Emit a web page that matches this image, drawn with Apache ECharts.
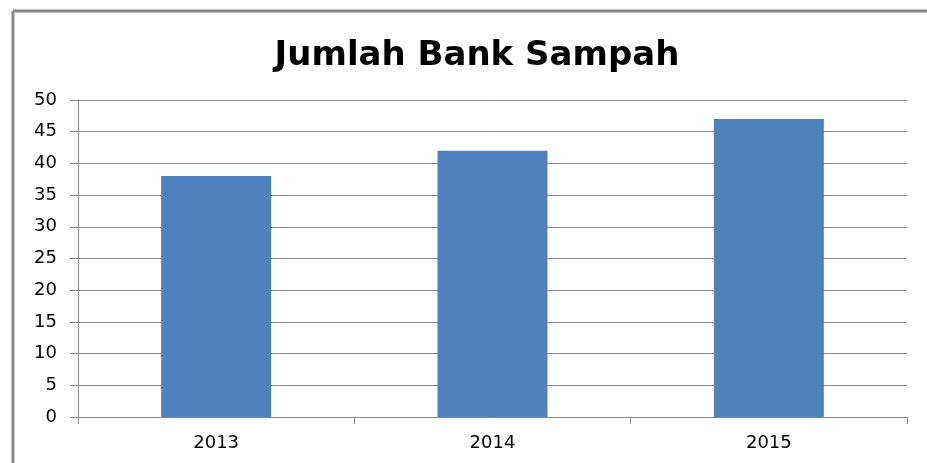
<!DOCTYPE html>
<html>
<head>
<meta charset="utf-8">
<script src="https://cdn.jsdelivr.net/npm/echarts@6/dist/echarts.min.js"></script>
<style>
  html, body { margin: 0; padding: 0; background: #fff; }
  #main { width: 927px; height: 463px; }
</style>
</head>
<body>
<div id="main"></div>
<script>
const years = ['2013', '2014', '2015']
const jumlah = [38, 42, 47]

const myChart = echarts.init(document.querySelector('#main'))
const option = {
  backgroundColor: '#fff',
  animation: false,
  title: {
    text: 'Jumlah Bank Sampah',
    left: 472,
    top: 34,
    textAlign: 'center',
    textStyle: {
      fontFamily: 'DejaVu Sans',
      fontWeight: 'bold',
      fontSize: 34,
      color: '#000'
    }
  },
  // outer frame lines (left and top)
  graphic: [
    { type: 'line', shape: { x1: 13, y1: 11, x2: 927, y2: 11 }, style: { stroke: '#888', lineWidth: 3 } },
    { type: 'line', shape: { x1: 13, y1: 11, x2: 13, y2: 463 }, style: { stroke: '#888', lineWidth: 3 } }
  ],
  grid: { left: 78, right: 20, top: 100, bottom: 46 },
  xAxis: {
    type: 'category',
    data: years,
    axisLine: { lineStyle: { color: '#888', width: 1 } },
    axisTick: { show: true, length: 7, lineStyle: { color: '#888' } },
    axisLabel: { fontFamily: 'DejaVu Sans', fontSize: 18, color: '#000', margin: 17 }
  },
  yAxis: {
    type: 'value',
    min: 0,
    max: 50,
    interval: 5,
    axisLine: { show: true, lineStyle: { color: '#888', width: 1 } },
    axisTick: { show: true, length: 8, lineStyle: { color: '#888' } },
    axisLabel: { fontFamily: 'DejaVu Sans', fontSize: 18, color: '#000', margin: 21 },
    splitLine: { lineStyle: { color: '#888', width: 1 } }
  },
  series: [
    {
      type: 'bar',
      data: jumlah,
      barWidth: 110,
      itemStyle: { color: '#4F81BD' }
    }
  ]
}
myChart.setOption(option)
</script>
</body>
</html>
